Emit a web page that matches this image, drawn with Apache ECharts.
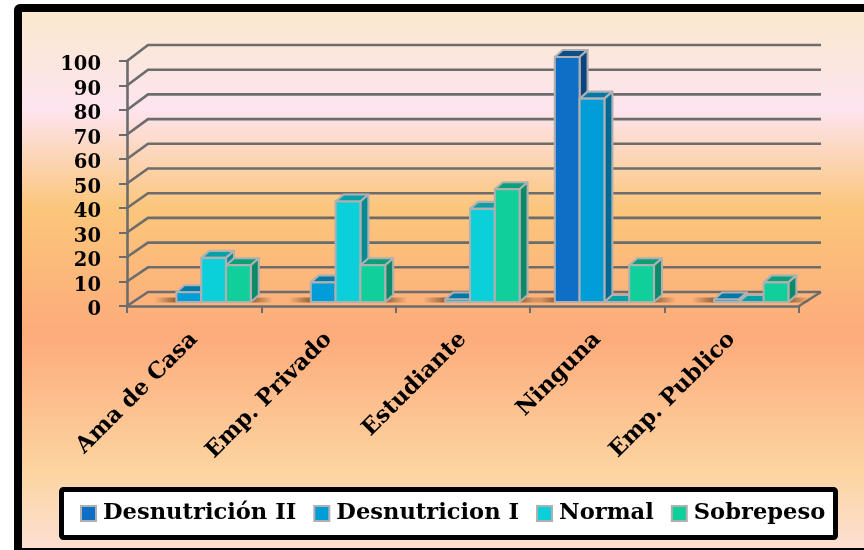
<!DOCTYPE html>
<html>
<head>
<meta charset="utf-8">
<style>html,body{margin:0;padding:0;background:#fff}#c{width:864px;height:550px}</style>
<script src="https://cdn.jsdelivr.net/npm/echarts@6/dist/echarts.min.js"></script>
</head>
<body>
<div id="c"></div>
<script>
const categories = ['Ama de Casa', 'Emp. Privado', 'Estudiante', 'Ninguna', 'Emp. Publico'];
const desnutricionII = [null, null, null, 100, null];
const desnutricionI = [4, 8, 1, 83, 1];
const normal = [18, 41, 38, 0, 0];
const sobrepeso = [15, 15, 46, 15, 8];
const yTicks = [0, 10, 20, 30, 40, 50, 60, 70, 80, 90, 100];
const seriesNames = ['Desnutrición II', 'Desnutricion I', 'Normal', 'Sobrepeso'];
const seriesValues = [desnutricionII, desnutricionI, normal, sobrepeso];
const frontColors = ['#0f6fc6', '#009dd9', '#0bd0d9', '#10cf9b'];
const topColors = ['#0b4e8c', '#0079a8', '#08a0a8', '#0ba079'];
const sideColors = ['#0a4480', '#006a94', '#078a92', '#0a8a68'];

const GREY = '#6c6c6c', EDGE = '#b0b0b0', SERIF = '"DejaVu Serif", serif';
const WALL_DX = 21, BAR_DX = 7.5, BAR_LIFT = 4, BAR_W = 24.8, BAR_DEPTH_X = 8, BAR_DEPTH_Y = 7;

function wallLift(v) { return 14 + v * 0.02; }

function barLeft(api, cat, s) {
  const cx = api.coord([cat, 0])[0] + BAR_DX - 0.5;
  return cx + (s - 2) * BAR_W;
}

function renderWall(params, api) {
  const v = api.value(0);
  const cs = params.coordSys;
  const y = api.coord([0, v])[1];
  const x0 = cs.x, x1 = cs.x + cs.width, dy = wallLift(v);
  const style = { fill: null, stroke: GREY, lineWidth: 2.6 };
  const children = [{ type: 'polyline', shape: { points: [[x0, y], [x0 + WALL_DX, y - dy], [x1 + WALL_DX + 1, y - dy]] }, style: style }];
  if (v === 0) {
    children.push({ type: 'line', shape: { x1: x1, y1: y, x2: x1 + WALL_DX + 1, y2: y - dy }, style: style });
  }
  return { type: 'group', children: children };
}

function renderShadow(params, api) {
  const cat = api.value(0), s = api.value(1);
  if (isNaN(api.value(2))) return null;
  const x = barLeft(api, cat, s);
  const y = api.coord([cat, 0])[1] - BAR_LIFT;
  return {
    type: 'rect',
    shape: { x: x - 22, y: y - 4.5, width: BAR_W + 44, height: 5 },
    style: {
      fill: {
        type: 'linear', x: 0, y: 0, x2: 1, y2: 0,
        colorStops: [
          { offset: 0, color: 'rgba(110,70,40,0)' },
          { offset: 0.34, color: 'rgba(110,70,40,0.8)' },
          { offset: 0.66, color: 'rgba(110,70,40,0.8)' },
          { offset: 1, color: 'rgba(110,70,40,0)' }
        ]
      }
    }
  };
}

function makeBarRenderer(s) {
  return function (params, api) {
    const v = api.value(1);
    if (isNaN(v)) return null;
    const cat = api.value(0);
    const x = barLeft(api, cat, s);
    const base = api.coord([cat, 0])[1] - BAR_LIFT;
    const top = api.coord([cat, v])[1] - BAR_LIFT;
    const r = x + BAR_W, dx = BAR_DEPTH_X, dy = BAR_DEPTH_Y;
    const edge = { stroke: EDGE, lineWidth: 2.1, lineJoin: 'round' };
    return {
      type: 'group',
      children: [
        { type: 'polygon', shape: { points: [[x, top], [x + dx, top - dy], [r + dx, top - dy], [r, top]] }, style: Object.assign({ fill: topColors[s] }, edge) },
        { type: 'polygon', shape: { points: [[r, top], [r + dx, top - dy], [r + dx, base - dy], [r, base]] }, style: Object.assign({ fill: sideColors[s] }, edge) },
        { type: 'rect', shape: { x: x, y: top, width: BAR_W, height: base - top }, style: Object.assign({ fill: frontColors[s] }, edge) }
      ]
    };
  };
}

const shadowData = [];
seriesValues.forEach((vals, s) => vals.forEach((v, c) => { if (v !== null) shadowData.push([c, s, v]); }));

const barSeries = seriesNames.map((name, s) => ({
  name: name,
  type: 'custom',
  renderItem: makeBarRenderer(s),
  data: seriesValues[s].map((v, c) => [c, v === null ? '-' : v]),
  encode: { x: 0, y: 1 },
  itemStyle: { color: frontColors[s], borderColor: EDGE, borderWidth: 2 },
  clip: false,
  z: 5 + s,
  silent: true
}));

const chart = echarts.init(document.getElementById('c'), null, { renderer: 'canvas' });
chart.setOption({
  animation: false,
  backgroundColor: '#ffffff',
  graphic: [
    {
      type: 'rect', z: -10, silent: true,
      shape: { x: 18, y: 8, width: 900, height: 544, r: 2 },
      style: {
        stroke: '#000', lineWidth: 8,
        fill: {
          type: 'linear', x: 0, y: 0, x2: 0, y2: 1,
          colorStops: [
            { offset: 0, color: '#fbe9cb' },
            { offset: 0.19, color: '#fde4ef' },
            { offset: 0.37, color: '#fbc67b' },
            { offset: 0.6, color: '#fdab7b' },
            { offset: 0.85, color: '#fcd5a2' },
            { offset: 1, color: '#fde0d8' }
          ]
        }
      }
    },
    {
      type: 'rect', z: -9, silent: true,
      shape: { x: 61.5, y: 489.5, width: 774, height: 48, r: 2 },
      style: { fill: '#fff', stroke: '#000', lineWidth: 5 }
    }
  ],
  legend: {
    data: seriesNames,
    left: 80,
    top: 502,
    padding: 0,
    itemWidth: 15,
    itemHeight: 15,
    itemGap: 17,
    icon: 'rect',
    textStyle: { fontFamily: SERIF, fontWeight: 'bold', fontSize: 22.6, color: '#000', padding: [0, 0, 0, 2] }
  },
  grid: { left: 127, right: 65, top: 61, bottom: 244, containLabel: false },
  xAxis: {
    type: 'category',
    data: categories,
    axisLine: { lineStyle: { color: GREY, width: 2.6 } },
    axisTick: { show: true, length: 7, lineStyle: { color: GREY, width: 2 } },
    axisLabel: { rotate: 45, interval: 0, margin: 30, fontFamily: SERIF, fontWeight: 'bold', fontSize: 22.5, color: '#000' }
  },
  yAxis: {
    type: 'value',
    min: 0,
    max: 100,
    interval: 10,
    axisLine: { show: true, lineStyle: { color: GREY, width: 2.6 } },
    axisTick: { show: true, length: 8, lineStyle: { color: GREY, width: 2 } },
    splitLine: { show: false },
    axisLabel: { margin: 26, fontFamily: SERIF, fontWeight: 'bold', fontSize: 19.5, color: '#000', verticalAlign: 'top', lineHeight: 8 }
  },
  series: [
    {
      type: 'custom', name: 'wall', renderItem: renderWall, silent: true, clip: false, z: 2,
      data: yTicks.map(v => [v]),
      encode: { y: 0 }
    },
    {
      type: 'custom', name: 'shadow', renderItem: renderShadow, silent: true, clip: false, z: 3,
      data: shadowData,
      encode: { x: 0 }
    }
  ].concat(barSeries)
});
</script>
</body>
</html>
